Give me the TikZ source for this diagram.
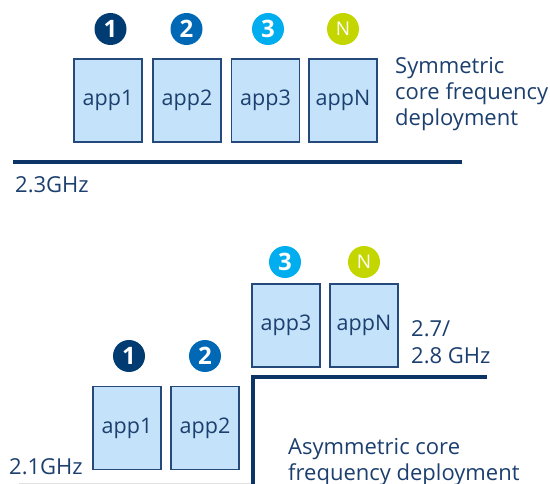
\documentclass[tikz,border=0pt]{standalone}
\usepackage{fontspec}
\setmainfont{Open Sans}
\definecolor{txtblue}{HTML}{1B3F6E}
\definecolor{boxfill}{HTML}{C4E2FA}
\definecolor{boxedge}{HTML}{24497A}
\definecolor{barblue}{HTML}{0D3466}
\definecolor{cnavy}{HTML}{003C71}
\definecolor{cblue}{HTML}{0068B5}
\definecolor{ccyan}{HTML}{00AEEF}
\definecolor{clime}{HTML}{C4D600}
\begin{document}
\begin{tikzpicture}[x=1pt,y=-1pt,
  appbox/.style={draw=boxedge,line width=1.3pt,fill=boxfill,minimum width=68pt,minimum height=83pt,
    inner sep=0pt,text=txtblue,font=\fontsize{21.5}{24}\selectfont},
  badge/.style={circle,minimum size=32pt,inner sep=0pt,text=white,font=\bfseries\fontsize{24}{26}\selectfont},
  nbadge/.style={badge,font=\fontsize{19}{20}\selectfont},
  label/.style={text=txtblue,font=\fontsize{22}{26}\selectfont,anchor=base west,inner sep=0pt},
  bar/.style={draw=barblue,line width=4pt}]
\useasboundingbox (0,0) rectangle (550,484);
\clip (0,0) rectangle (550,484);

% symmetric deployment
\node[appbox] (s1) at (108,100.5) {app1};
\node[appbox] (s2) at (187,100.5) {app2};
\node[appbox] (s3) at (265.5,100.5) {app3};
\node[appbox] (s4) at (343,100.5) {appN};
\node[badge,fill=cnavy] (b1) at (110.5,29) {1};
\node[badge,fill=cblue] (b2) at (186.5,29) {2};
\node[badge,fill=ccyan] (b3) at (268,29) {3};
\node[nbadge,fill=clime] (b4) at (343,29) {N};
\coordinate (sl) at (13,162);
\coordinate (sr) at (462,162);
\draw[bar] (sl) -- (sr);
\node[label] (f1) at (15,193) {2.3GHz};
\node[label,align=left,anchor=north west] (t1) at (395,57) {Symmetric\\core frequency\\deployment};

% asymmetric deployment
\node[appbox] (a1) at (127,428) {app1};
\node[appbox] (a2) at (205,428) {app2};
\node[appbox] (a3) at (286,325.5) {app3};
\node[appbox] (a4) at (364,325.5) {appN};
\node[badge,fill=cnavy] (c1) at (129,356) {1};
\node[badge,fill=cblue] (c2) at (205,356) {2};
\node[badge,fill=ccyan] (c3) at (285,262) {3};
\node[nbadge,fill=clime] (c4) at (364,262) {N};
\coordinate (ar) at (487,377);
\coordinate (ac) at (253,377);
\coordinate (ab) at (253,490);
\draw[bar,line join=miter] (ar) -- (ac) -- (ab);
\coordinate (gl) at (19,483);
\coordinate (gr) at (251,483);
\draw[black!12,line width=0.8pt] (gl) -- (gr);
\node[label] (f2) at (9,475) {2.1GHz};
\node[label] (f3) at (411,337) {2.7/};
\node[label] (f4) at (411,363) {2.8 GHz};
\node[label] (t2) at (288,455) {Asymmetric core};
\node[label] (t3) at (288,480) {frequency deployment};
\end{tikzpicture}
\end{document}
